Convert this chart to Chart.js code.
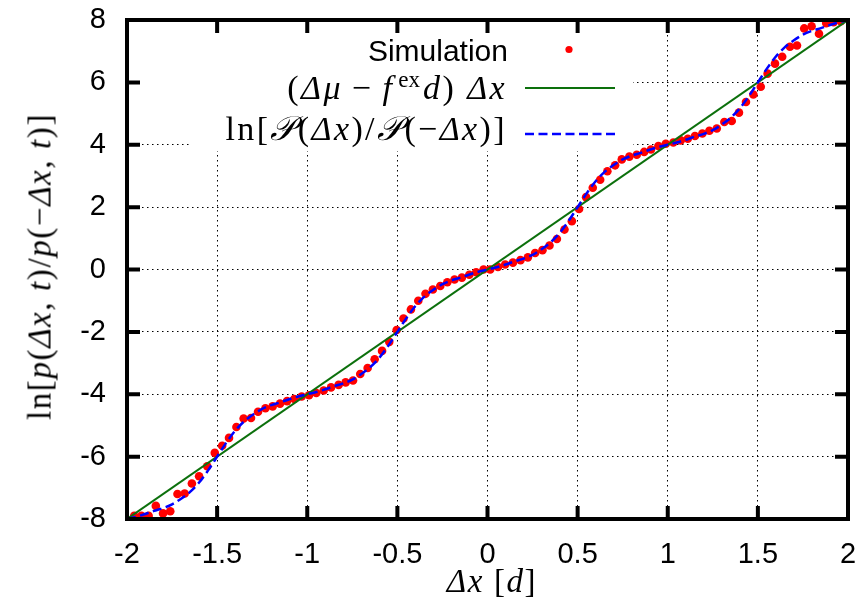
<!DOCTYPE html>
<html>
<head>
<meta charset="utf-8">
<script src="https://cdn.jsdelivr.net/npm/chart.js@4.4.1/dist/chart.umd.min.js"></script>
<style>
  html, body { margin: 0; padding: 0; background: #fff; }
  #wrap { position: relative; width: 861px; height: 605px; }
  .lab { position: absolute; white-space: nowrap; color: #000; }
  .sans { font-family: 'Liberation Sans', Arial, sans-serif; font-size: 30px; line-height: 30px; }
  .math { font-family: 'Liberation Serif', 'DejaVu Serif', serif; font-size: 33px; line-height: 33px; letter-spacing: 1.6px; }
  .math i { font-style: italic; }
  .math sup { font-size: 0.68em; line-height: 0; vertical-align: 0.5em; letter-spacing: 0; margin: 0 3px 0 4px; }
  .math .op { margin: 0 9px; }
  .key { right: 354px; text-align: right; font-size: 34px; letter-spacing: 2.4px; }
</style>
</head>
<body>
<div id="wrap">
  <canvas id="chart"></canvas>
  <div class="lab sans" style="right:353px; top:36px">Simulation</div>
  <div class="lab math key" style="top:71px">(<i>Δμ</i><span class="op">−</span><i>f</i><sup>ex</sup><i>d</i>)&nbsp;<i>Δx</i></div>
  <div class="lab math key" style="top:112px">ln[<i>𝒫</i>(<i>Δx</i>)/<i>𝒫</i>(−<i>Δx</i>)]</div>
  <div class="lab math" style="left:292px; width:400px; top:565px; text-align:center"><i>Δx</i>&nbsp;[<i>d</i>]</div>
  <div class="lab math" style="left:-160px; width:400px; top:250px; text-align:center; transform:rotate(-90deg)">ln[<i>p</i>(<i>Δx</i>, <i>t</i>)/<i>p</i>(−<i>Δx</i>, <i>t</i>)]</div>
</div>
<script>
// simulation points
const simX = [-1.96, -1.92, -1.88, -1.84, -1.80, -1.76, -1.72, -1.68, -1.64, -1.60,
  -1.555, -1.513, -1.472, -1.434, -1.393, -1.353, -1.312, -1.273, -1.232, -1.192,
  -1.151, -1.112, -1.072, -1.031, -0.990, -0.950, -0.909, -0.868, -0.826, -0.787,
  -0.746, -0.706, -0.665, -0.626, -0.585, -0.545, -0.504, -0.466, -0.425, -0.384,
  -0.344, -0.303, -0.262, -0.223, -0.183, -0.142, -0.101, -0.063, -0.022, 0.015,
  0.058, 0.098, 0.141, 0.183, 0.224, 0.264, 0.305, 0.344, 0.385, 0.427,
  0.468, 0.508, 0.547, 0.584, 0.625, 0.665, 0.708, 0.745, 0.787, 0.828,
  0.869, 0.907, 0.948, 0.989, 1.031, 1.072, 1.111, 1.151, 1.192, 1.231,
  1.272, 1.314, 1.355, 1.395, 1.434, 1.475, 1.516, 1.554, 1.595, 1.635,
  1.678, 1.717, 1.757, 1.798, 1.839, 1.879, 1.92, 1.96];
const simY = [-7.90, -7.90, -7.90, -7.58, -7.82, -7.75, -7.20, -7.18, -6.86, -6.63,
  -6.31, -5.88, -5.65, -5.40, -5.05, -4.78, -4.76, -4.56, -4.45, -4.39,
  -4.30, -4.22, -4.15, -4.07, -4.03, -3.96, -3.88, -3.78, -3.70, -3.62,
  -3.56, -3.35, -3.16, -2.88, -2.61, -2.32, -1.94, -1.57, -1.28, -1.00,
  -0.78, -0.64, -0.53, -0.41, -0.32, -0.26, -0.17, -0.09, 0.00, 0.00,
  0.08, 0.16, 0.22, 0.30, 0.39, 0.53, 0.62, 0.77, 0.98, 1.28,
  1.55, 1.94, 2.32, 2.62, 2.88, 3.15, 3.34, 3.53, 3.62, 3.68,
  3.77, 3.85, 3.96, 4.03, 4.07, 4.14, 4.19, 4.28, 4.36, 4.45,
  4.52, 4.73, 4.76, 5.03, 5.37, 5.61, 5.86, 6.28, 6.60, 6.82,
  7.14, 7.18, 7.73, 7.80, 7.56, 7.90, 7.93, 7.96];

// straight line (Δμ - f d) Δx
const lineX = [-2, 2];
const lineY = [-8, 8];

// ln[P(Δx)/P(-Δx)] curve
const curveX = [-2.00, -1.95, -1.90, -1.85, -1.80, -1.75, -1.70, -1.65, -1.60, -1.55,
  -1.50, -1.45, -1.40, -1.35, -1.30, -1.25, -1.20, -1.15, -1.10, -1.05,
  -1.00, -0.95, -0.90, -0.85, -0.80, -0.75, -0.70, -0.65, -0.60, -0.55,
  -0.50, -0.45, -0.40, -0.35, -0.30, -0.25, -0.20, -0.15, -0.10, -0.05,
  0.00, 0.05, 0.10, 0.15, 0.20, 0.25, 0.30, 0.35, 0.40, 0.45,
  0.50, 0.55, 0.60, 0.65, 0.70, 0.75, 0.80, 0.85, 0.90, 0.95,
  1.00, 1.05, 1.10, 1.15, 1.20, 1.25, 1.30, 1.35, 1.40, 1.45,
  1.50, 1.55, 1.60, 1.65, 1.70, 1.75, 1.80, 1.85, 1.90, 1.95, 2.00];
const curveY = [-8.00, -7.93, -7.84, -7.74, -7.65, -7.53, -7.35, -7.13, -6.83, -6.44,
  -6.00, -5.56, -5.17, -4.87, -4.65, -4.47, -4.35, -4.26, -4.16, -4.07,
  -4.00, -3.93, -3.84, -3.74, -3.65, -3.53, -3.35, -3.13, -2.83, -2.44,
  -2.00, -1.56, -1.17, -0.87, -0.65, -0.47, -0.35, -0.26, -0.16, -0.07,
  0.00, 0.07, 0.16, 0.26, 0.35, 0.47, 0.65, 0.87, 1.17, 1.56,
  2.00, 2.44, 2.83, 3.13, 3.35, 3.53, 3.65, 3.74, 3.84, 3.93,
  4.00, 4.07, 4.16, 4.26, 4.35, 4.47, 4.65, 4.87, 5.17, 5.56,
  6.00, 6.44, 6.83, 7.13, 7.35, 7.53, 7.65, 7.74, 7.84, 7.93, 8.00];

const xTickLabels = ['-2', '-1.5', '-1', '-0.5', '0', '0.5', '1', '1.5', '2'];
const yTickLabels = ['-8', '-6', '-4', '-2', '0', '2', '4', '6', '8'];

const pts = (xs, ys) => xs.map((x, i) => ({ x: x, y: ys[i] }));

// white key box, thick frame with inward ticks, key samples
const framePlugin = {
    id: 'frame',
    beforeDatasetsDraw(chart) {
        const ctx = chart.ctx;
        ctx.save();
        ctx.fillStyle = '#fff';
        ctx.fillRect(142, 34, 491, 92);
        ctx.fillRect(190, 34, 443, 117);
        ctx.restore();
    },
    afterDatasetsDraw(chart) {
        const ctx = chart.ctx;
        const a = chart.chartArea;
        const xs = chart.scales.x, ys = chart.scales.y;
        const tl = 13;
        ctx.save();
        ctx.strokeStyle = '#000';
        ctx.lineWidth = 4;
        ctx.beginPath();
        xs.ticks.forEach(t => {
            const p = xs.getPixelForValue(t.value);
            ctx.moveTo(p, a.bottom); ctx.lineTo(p, a.bottom - tl);
            ctx.moveTo(p, a.top); ctx.lineTo(p, a.top + tl);
        });
        ys.ticks.forEach(t => {
            const p = ys.getPixelForValue(t.value);
            ctx.moveTo(a.left, p); ctx.lineTo(a.left + tl, p);
            ctx.moveTo(a.right, p); ctx.lineTo(a.right - tl, p);
        });
        ctx.stroke();
        ctx.strokeRect(a.left, a.top, a.right - a.left, a.bottom - a.top);

        // key samples
        const ds = chart.data.datasets;
        ctx.fillStyle = ds[0].backgroundColor;
        ctx.beginPath();
        ctx.arc(569, 49.5, 3.6, 0, Math.PI * 2);
        ctx.fill();
        ctx.lineWidth = ds[1].borderWidth;
        ctx.strokeStyle = ds[1].borderColor;
        ctx.beginPath(); ctx.moveTo(525, 88); ctx.lineTo(615, 88); ctx.stroke();
        ctx.lineWidth = ds[2].borderWidth;
        ctx.strokeStyle = ds[2].borderColor;
        ctx.setLineDash(ds[2].borderDash);
        ctx.beginPath(); ctx.moveTo(525, 134); ctx.lineTo(615, 134); ctx.stroke();
        ctx.restore();
    }
};

const tickFont = { family: "'Liberation Sans', Arial, sans-serif", size: 29 };

new Chart(document.getElementById('chart').getContext('2d'), {
    type: 'scatter',
    data: {
        datasets: [{
            label: 'Simulation',
            data: pts(simX, simY),
            backgroundColor: '#ff0000',
            borderWidth: 0,
            pointRadius: 4.3,
            showLine: false,
            order: 3,
        }, {
            label: 'line',
            data: pts(lineX, lineY),
            borderColor: '#0c700c',
            borderWidth: 2,
            pointRadius: 0,
            showLine: true,
            order: 2,
        }, {
            label: 'curve',
            data: pts(curveX, curveY),
            borderColor: '#0000ff',
            borderWidth: 2.5,
            borderDash: [9, 4.5],
            pointRadius: 0,
            showLine: true,
            cubicInterpolationMode: 'monotone',
            order: 1,
        }],
    },
    options: {
        responsive: true,
        maintainAspectRatio: false,
        animation: false,
        layout: { padding: { top: 20, right: 13, left: 0, bottom: 0 } },
        plugins: {
            legend: { display: false },
            tooltip: { enabled: false },
        },
        scales: {
            x: {
                type: 'linear',
                min: -2, max: 2,
                afterFit: s => { s.height = 86; s.paddingLeft = 0; s.paddingRight = 0; },
                ticks: {
                    stepSize: 0.5,
                    padding: 19,
                    color: '#000',
                    font: tickFont,
                    maxRotation: 0,
                    callback: v => xTickLabels[Math.round((v + 2) * 2)],
                },
                grid: { color: '#000', lineWidth: 1, drawTicks: false },
                border: { display: false, dash: [1.5, 3.5] },
            },
            y: {
                min: -8, max: 8,
                afterFit: s => { s.width = 127; s.paddingTop = 0; s.paddingBottom = 0; },
                ticks: {
                    stepSize: 2,
                    padding: 21,
                    color: '#000',
                    font: tickFont,
                    callback: v => yTickLabels[Math.round((v + 8) / 2)],
                },
                grid: { color: '#000', lineWidth: 1, drawTicks: false },
                border: { display: false, dash: [1.5, 3.5] },
            },
        },
    },
    plugins: [framePlugin],
});
</script>
</body>
</html>
